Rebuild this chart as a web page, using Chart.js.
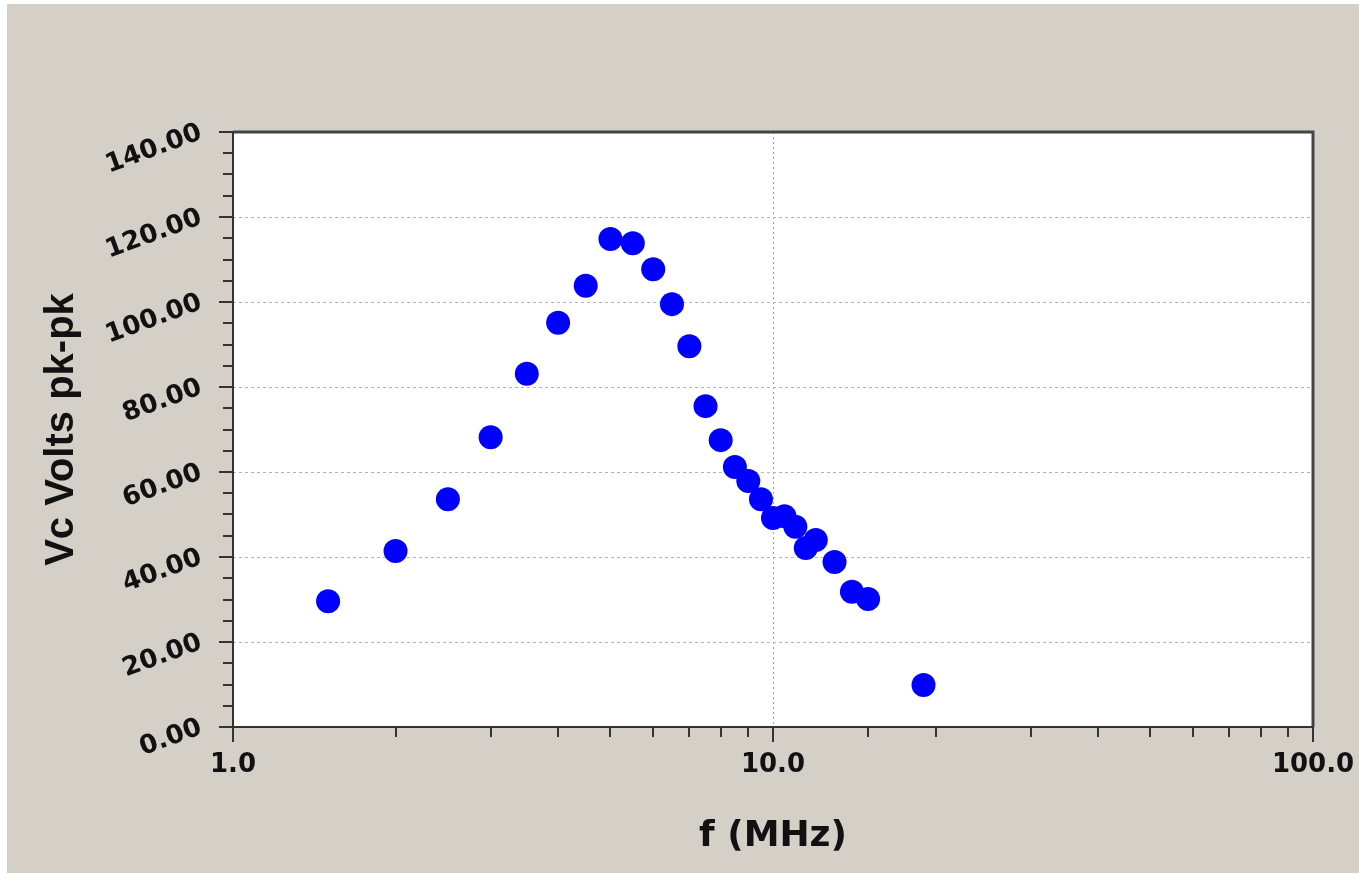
<!DOCTYPE html>
<html>
<head>
<meta charset="utf-8">
<script src="https://cdn.jsdelivr.net/npm/chart.js@4.4.1/dist/chart.umd.min.js"></script>
<style>
  html, body { margin: 0; padding: 0; background: #ffffff; }
  #wrap { position: absolute; left: 7px; top: 4px; width: 1352px; height: 869px; background: #d4d0c8; }
</style>
</head>
<body>
<div id="wrap"><canvas id="chart"></canvas></div>
<script>
// frequency (MHz) and peak-to-peak capacitor voltage
const freqs = [1.5, 2.0, 2.5, 3.0, 3.5, 4.0, 4.5, 5.0, 5.5, 6.0, 6.5, 7.0, 7.5, 8.0, 8.5, 9.0, 9.5, 10.0, 10.5, 11.0, 11.5, 12.0, 13.0, 14.0, 15.0, 19.0];
const volts = [29.6, 41.4, 53.6, 68.2, 83.1, 95.1, 103.8, 114.8, 113.8, 107.7, 99.5, 89.6, 75.5, 67.5, 61.2, 57.9, 53.6, 49.2, 49.6, 47.1, 42.1, 44.0, 38.8, 31.8, 30.1, 9.9];
const xLabels = [1, 10, 100];
const yMajorStep = 20;

const isDecade = (v) => Math.abs(Math.log10(v) - Math.round(Math.log10(v))) < 1e-9;

// white plot area, frame lines and tick marks of two lengths
const framePlugin = {
  id: "frame",
  beforeDraw(chart) {
    const { ctx, chartArea: a } = chart;
    ctx.save();
    ctx.fillStyle = "#ffffff";
    ctx.fillRect(a.left, a.top, a.right - a.left, a.bottom - a.top);
    ctx.restore();
  },
  afterDraw(chart) {
    const { ctx, chartArea: a, scales } = chart;
    ctx.save();
    ctx.strokeStyle = "#444444";
    ctx.lineWidth = 3;
    ctx.beginPath();
    ctx.moveTo(a.left, a.top); ctx.lineTo(a.right, a.top); ctx.lineTo(a.right, a.bottom);
    ctx.stroke();

    ctx.strokeStyle = "#333333";
    ctx.lineWidth = 2;
    ctx.beginPath();
    ctx.moveTo(a.left, a.top); ctx.lineTo(a.left, a.bottom);
    ctx.moveTo(a.left, a.bottom); ctx.lineTo(a.right, a.bottom);
    scales.y.ticks.forEach(t => {
      const py = Math.round(scales.y.getPixelForValue(t.value));
      const len = t.value % yMajorStep === 0 ? 14 : 10;
      ctx.moveTo(a.left - len, py); ctx.lineTo(a.left, py);
    });
    scales.x.ticks.forEach(t => {
      const px = Math.round(scales.x.getPixelForValue(t.value));
      const len = isDecade(t.value) ? 15 : 10;
      ctx.moveTo(px, a.bottom); ctx.lineTo(px, a.bottom + len);
    });
    ctx.stroke();
    ctx.restore();
  }
};

const tickFont = { family: "DejaVu Sans", size: 26, weight: "bold" };

new Chart(document.getElementById("chart"), {
  type: "scatter",
  data: {
    datasets: [{
      data: freqs.map((f, i) => ({ x: f, y: volts[i] })),
      pointRadius: 12,
      pointHoverRadius: 12,
      pointBackgroundColor: "#0000ff",
      pointBorderWidth: 0,
    }]
  },
  options: {
    responsive: true,
    maintainAspectRatio: false,
    animation: false,
    layout: { padding: { top: 128, right: 46, left: 0, bottom: 0 } },
    plugins: { legend: { display: false }, tooltip: { enabled: false } },
    scales: {
      x: {
        type: "logarithmic",
        min: 1,
        max: 100,
        afterFit(s) { s.height = 146; s.paddingLeft = 0; s.paddingRight = 0; },
        border: { display: false, dash: [2, 3] },
        grid: {
          drawTicks: false,
          lineWidth: 1,
          color: (c) => (c.tick && c.tick.value === 10 ? "#9a9a9a" : "transparent"),
        },
        ticks: {
          autoSkip: false,
          maxRotation: 0,
          padding: 23,
          color: "#111111",
          font: tickFont,
          callback: (v) => (xLabels.includes(v) ? v.toFixed(1) : ""),
        },
        title: {
          display: true,
          text: "f (MHz)",
          color: "#111111",
          font: { family: "DejaVu Sans", size: 36, weight: "bold" },
          padding: { top: 0, bottom: 15 },
        },
      },
      y: {
        min: 0,
        max: 140,
        afterFit(s) { s.width = 226; s.paddingTop = 0; s.paddingBottom = 0; },
        border: { display: false, dash: [3, 3] },
        grid: {
          drawTicks: false,
          lineWidth: 1,
          color: (c) => {
            const v = c.tick && c.tick.value;
            return v % yMajorStep === 0 && v > 0 && v < 140 ? "#b4b4b4" : "transparent";
          },
        },
        ticks: {
          stepSize: 5,
          autoSkip: false,
          minRotation: 20,
          maxRotation: 20,
          padding: 32,
          color: "#111111",
          font: tickFont,
          callback: (v) => (v % yMajorStep === 0 ? v.toFixed(2) : ""),
        },
        title: {
          display: true,
          text: "Vc Volts pk-pk",
          color: "#111111",
          font: { family: "Liberation Sans", size: 40, weight: "bold" },
          padding: { top: 31, bottom: 0 },
        },
      },
    },
  },
  plugins: [framePlugin],
});
</script>
</body>
</html>
